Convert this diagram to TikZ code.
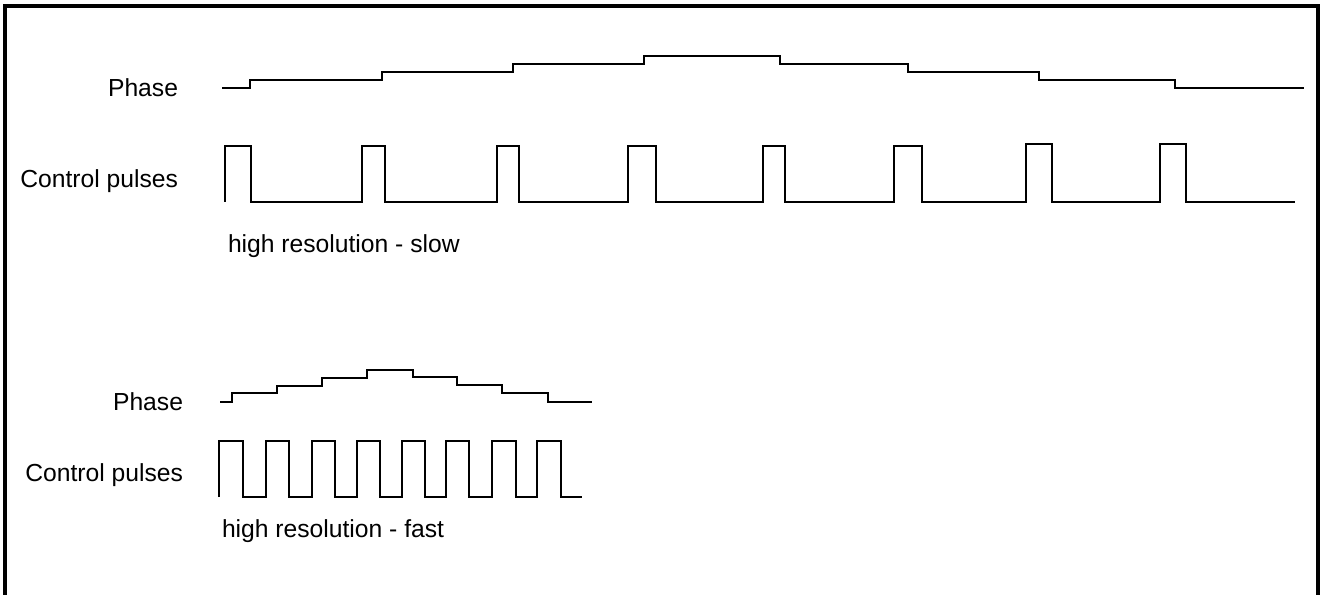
\documentclass[tikz,border=0pt]{standalone}
\usepackage{fontspec}
\setmainfont{Liberation Sans}
\begin{document}
\begin{tikzpicture}[x=0.75pt,y=-0.75pt,
  wave/.style={line width=1.6pt, line join=miter, line cap=butt},
  frame/.style={line width=2.6pt},
  lbl/.style={font=\fontsize{18.5}{22}\selectfont, inner sep=0pt, outer sep=0pt}]
\useasboundingbox (0,0) rectangle (1324,595);
% frame
\draw[frame] (5,597) -- (5,6) -- (1318,6) -- (1318,597);

% ---------- slow ----------
\node[lbl, anchor=base east] (ph1) at (178,97) {Phase};
\node[lbl, anchor=base east] (cp1) at (178,188) {Control pulses};
\node[lbl, anchor=base west] (hr1) at (228,253) {high resolution - slow};

\draw[wave] (222,88) -- (250,88) -- (250,80) -- (382,80) -- (382,72) -- (513,72) -- (513,64)
  -- (644,64) -- (644,56) -- (780,56) -- (780,64) -- (908,64) -- (908,72) -- (1039,72)
  -- (1039,80) -- (1175,80) -- (1175,88) -- (1304,88);

\draw[wave] (225,202) -- (225,146) -- (251,146) -- (251,202)
  -- (362,202) -- (362,146) -- (385,146) -- (385,202)
  -- (497,202) -- (497,146) -- (519,146) -- (519,202)
  -- (628,202) -- (628,146) -- (656,146) -- (656,202)
  -- (763,202) -- (763,146) -- (785,146) -- (785,202)
  -- (894,202) -- (894,146) -- (922,146) -- (922,202)
  -- (1026,202) -- (1026,144) -- (1052,144) -- (1052,202)
  -- (1160,202) -- (1160,144) -- (1186,144) -- (1186,202)
  -- (1295,202);

% ---------- fast ----------
\node[lbl, anchor=base east] (ph2) at (183,410) {Phase};
\node[lbl, anchor=base east] (cp2) at (183,481) {Control pulses};
\node[lbl, anchor=base west] (hr2) at (222,537) {high resolution - fast};

\draw[wave] (220,402) -- (232,402) -- (232,393) -- (277,393) -- (277,386) -- (322,386)
  -- (322,378) -- (367,378) -- (367,370) -- (413,370) -- (413,377) -- (457,377)
  -- (457,385) -- (502,385) -- (502,393) -- (548,393) -- (548,402) -- (592,402);

\draw[wave] (219,497) -- (219,441) -- (243,441) -- (243,497)
  -- (266,497) -- (266,441) -- (289,441) -- (289,497)
  -- (312,497) -- (312,441) -- (335,441) -- (335,497)
  -- (357,497) -- (357,441) -- (380,441) -- (380,497)
  -- (402,497) -- (402,441) -- (425,441) -- (425,497)
  -- (446,497) -- (446,441) -- (469,441) -- (469,497)
  -- (492,497) -- (492,441) -- (516,441) -- (516,497)
  -- (537,497) -- (537,441) -- (561,441) -- (561,497)
  -- (582,497);
\end{tikzpicture}
\end{document}
